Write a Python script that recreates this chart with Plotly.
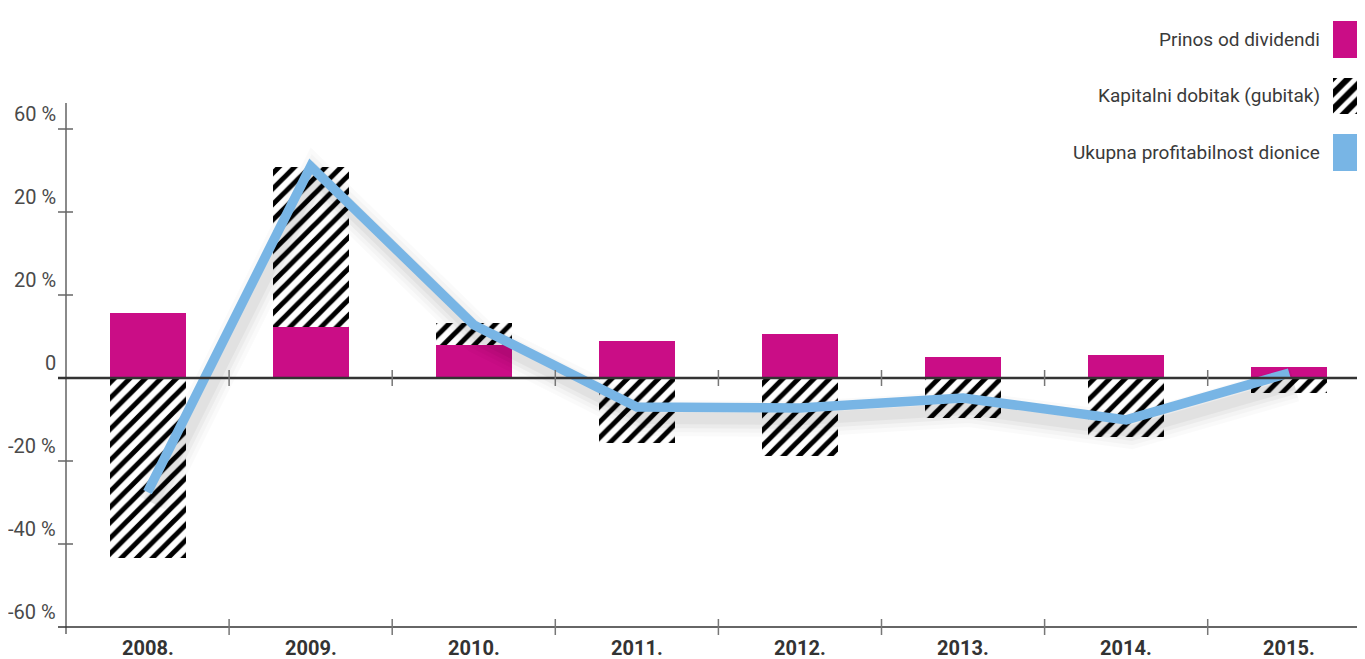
import plotly.graph_objects as go

# ---- data ----
years = ["2008.", "2009.", "2010.", "2011.", "2012.", "2013.", "2014.", "2015."]
dividend_yield = [15.7, 12.3, 8.0, 8.9, 10.6, 5.1, 5.5, 2.7]
capital_gain = [-43.4, 38.5, 5.3, -15.7, -18.8, -9.6, -14.2, -3.6]
total_return = [-27.5, 51.0, 12.8, -7.0, -7.2, -4.8, -10.1, 1.2]
ytick_vals = [60, 40, 20, 0, -20, -40, -60]
ytick_text = ["60 %", "20 %", "20 %", "0", "-20 %", "-40 %", "-60 %"]
legend_names = ["Prinos od dividendi", "Kapitalni dobitak (gubitak)", "Ukupna profitabilnost dionice"]

MAGENTA = "#ca0d86"
BLUE = "#78b5e5"
OFF = 8  # page body margin
W, H = 1365 - OFF, 659 - OFF
FONT = "Roboto"


def px(v):
    return v - OFF


xs = list(range(len(years)))
PX_PER_X = 163.1
PX_PER_Y = 4.15

HATCH = dict(shape="/", fgcolor="black", bgcolor="white", fgopacity=1, size=11, solidity=0.45)

fig = go.Figure()

fig.add_trace(go.Bar(x=xs, y=dividend_yield, width=0.466, marker=dict(color=MAGENTA, line=dict(width=0)),
                     showlegend=False, name=legend_names[0]))
fig.add_trace(go.Bar(x=xs, y=capital_gain, width=0.466,
                     marker=dict(color="black", line=dict(width=0), pattern=HATCH),
                     showlegend=False, name=legend_names[1]))

# soft shadow under the line
dx = 5 / PX_PER_X
dy = 11 / PX_PER_Y
for w, a in [(36, 0.018), (28, 0.025), (20, 0.035), (12, 0.04)]:
    fig.add_trace(go.Scatter(x=[v + dx for v in xs], y=[v - dy for v in total_return], mode="lines",
                             line=dict(color=f"rgba(0,0,0,{a})", width=w), hoverinfo="skip", showlegend=False))
fig.add_trace(go.Scatter(x=xs, y=total_return, mode="lines", line=dict(color=BLUE, width=9.5),
                         showlegend=False, name=legend_names[2]))

# legend swatches on their own small axes
fig.add_trace(go.Bar(x=[1, 1, 1], y=[0, 1, 2], orientation="h", width=0.644, xaxis="x2", yaxis="y2",
                     marker=dict(color=[MAGENTA, "black", BLUE], line=dict(width=0),
                                 pattern=dict(shape=["", "/", ""], fgcolor="black", bgcolor="white",
                                              fgopacity=1, size=11, solidity=0.45)),
                     showlegend=False, hoverinfo="skip"))

x_left_px = px(66)
y_top_px, y_bot_px = px(100), px(640)
y_zero_px = px(378)
yr_top = (y_zero_px - y_top_px) / PX_PER_Y
yr_bot = (y_zero_px - y_bot_px) / PX_PER_Y
leg_top, leg_bot = px(0), px(183)
leg_c0 = px(33)

fig.update_layout(
    width=W, height=H, margin=dict(l=0, r=0, t=0, b=0),
    paper_bgcolor="white", plot_bgcolor="rgba(0,0,0,0)",
    barmode="relative", bargap=0,
    xaxis=dict(domain=[x_left_px / W, 1], range=[-0.5, -0.5 + (W - x_left_px) / PX_PER_X],
               showgrid=False, zeroline=False, showticklabels=False, showline=False, ticks=""),
    yaxis=dict(domain=[(H - y_bot_px) / H, (H - y_top_px) / H], range=[yr_bot, yr_top],
               showgrid=False, zeroline=False, showticklabels=False, showline=False, ticks=""),
    xaxis2=dict(domain=[px(1333) / W, 1], range=[0, 1], anchor="y2", visible=False),
    yaxis2=dict(domain=[(H - leg_bot) / H, 1], range=[(leg_bot - leg_c0) / 59, (leg_top - leg_c0) / 59],
                anchor="x2", visible=False),
    font=dict(family=FONT),
)

shapes = []
# y axis line
shapes.append(dict(type="line", xref="paper", yref="paper", x0=x_left_px / W, x1=x_left_px / W,
                   y0=(H - px(634)) / H, y1=(H - px(103)) / H, line=dict(color="#8a8a8a", width=2)))
# y ticks
for v in ytick_vals:
    if v in (0, -60):
        continue
    shapes.append(dict(type="line", xref="paper", yref="y", x0=px(58) / W, x1=px(73) / W, y0=v, y1=v,
                       line=dict(color="#666", width=1.5)))
# zero line and bottom line
shapes.append(dict(type="line", xref="paper", yref="y", x0=px(58) / W, x1=1, y0=0, y1=0,
                   line=dict(color="#333", width=2.5)))
shapes.append(dict(type="line", xref="paper", yref="y", x0=px(58) / W, x1=1, y0=-60, y1=-60,
                   line=dict(color="#333", width=1.5)))
# category boundary ticks
for i in range(len(years) - 1):
    b = i + 0.5
    for base in (0, -60):
        shapes.append(dict(type="line", xref="x", yref="y", ysizemode="pixel", yanchor=base,
                           x0=b, x1=b, y0=-8, y1=8, line=dict(color="#777", width=1.5)))
fig.update_layout(shapes=shapes)

ann = []
for v, t in zip(ytick_vals, ytick_text):
    ann.append(dict(xref="paper", yref="y", x=px(58) / W, y=v, xanchor="right", yanchor="middle", yshift=15,
                    text=t, showarrow=False, font=dict(family=FONT, size=20, color="#4a4a4a")))
for i, yr in enumerate(years):
    ann.append(dict(xref="x", yref="y", x=i, y=-60, yanchor="middle", yshift=-21, text=f"<b>{yr}</b>",
                    showarrow=False, font=dict(family=FONT, size=20, color="#333")))
for i, name in enumerate(legend_names):
    ann.append(dict(xref="paper", yref="y2", x=px(1322) / W, y=i, xanchor="right", yanchor="middle",
                    text=name, showarrow=False, font=dict(family=FONT, size=19, color="#3a3a3a")))
fig.update_layout(annotations=ann)

fig.write_html("out.html")
